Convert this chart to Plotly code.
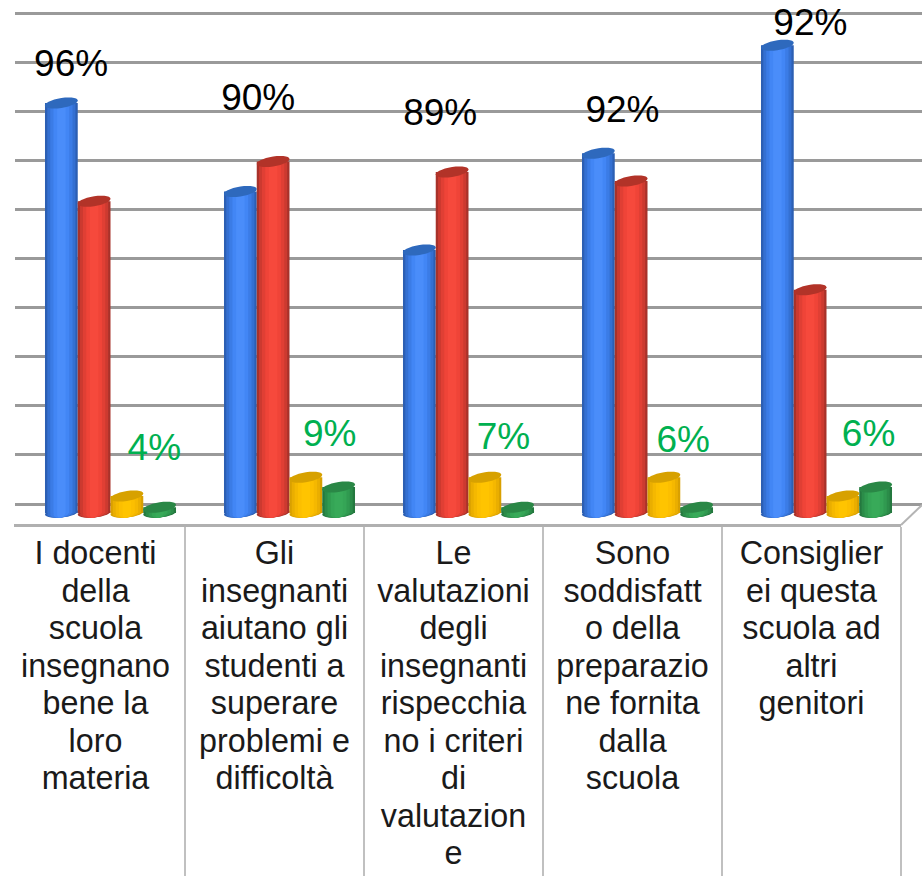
import math
import plotly.graph_objects as go

# ---------- data ----------
categories = ["I docenti", "Gli insegnanti", "Le valutazioni", "Sono soddisfatto", "Consiglierei"]
label_lines = [
    ["I docenti", "della", "scuola", "insegnano", "bene la", "loro", "materia"],
    ["Gli", "insegnanti", "aiutano gli", "studenti a", "superare", "problemi e", "difficoltà"],
    ["Le", "valutazioni", "degli", "insegnanti", "rispecchia", "no i criteri", "di", "valutazion", "e"],
    ["Sono", "soddisfatt", "o della", "preparazio", "ne fornita", "dalla", "scuola"],
    ["Consiglier", "ei questa", "scuola ad", "altri", "genitori"],
]
blue = [54.8, 43.0, 35.2, 48.1, 62.5]
red = [41.7, 47.0, 45.6, 44.4, 29.9]
yellow = [2.4, 4.9, 4.9, 4.9, 2.4]
green = [0.9, 3.6, 0.9, 0.9, 3.6]
agree_labels = ["96%", "90%", "89%", "92%", "92%"]
disagree_labels = ["4%", "9%", "7%", "6%", "6%"]
agree_label_y = [59.03, 54.37, 52.37, 52.9, 64.43]
disagree_label_y = [7.83, 9.57, 9.3, 8.8, 9.57]

# ---------- layout constants ----------
W, H = 922, 876
PLOT_H = H
PX_PER_UNIT = 7.5
ZERO_PX = 509
BASE_PX = 518
CAT_PX = 179.0
BAR_CENTER0 = 110.5
LABEL_CENTER0 = 95.5
AXIS_PX = 525
BAR_W = 0.183
base_val = (ZERO_PX - 513) / PX_PER_UNIT
CAP_H = 5.0
CAP_TILT = 2.5

series = [
    (blue, ["#2c5fb3", "#3470d2", "#3b7ce6", "#4286f5", "#4a8dfa"], "#2e69bd"),
    (red, ["#a8322a", "#cc3a30", "#e03f34", "#ef4438", "#f6493c"], "#b23328"),
    (yellow, ["#d9a000", "#eaae00", "#f5b800", "#fcbf00", "#ffc400"], "#d7a100"),
    (green, ["#24783f", "#2b8c49", "#309a50", "#35a556", "#38aa59"], "#2a8746"),
]
fractions = [1.0, 0.86, 0.68, 0.48, 0.26]


def ellipse(cx, cy, halfw, tilt=CAP_TILT, h=CAP_H, n=28):
    pts = []
    for k in range(n):
        t = 2 * math.pi * k / n
        x = cx + halfw * math.cos(t)
        y = cy + (h * math.sin(t) + tilt * math.cos(t)) / PX_PER_UNIT
        pts.append(f"{x:.4f},{y:.4f}")
    return "M" + " L".join(pts) + " Z"


fig = go.Figure()
shapes = []

for s, (vals, grads, cap) in enumerate(series):
    xs = [i + (s - 1.5) * BAR_W for i in range(len(vals))]
    for f, col in zip(fractions, grads):
        body = [v - CAP_H / PX_PER_UNIT - base_val for v in vals]
        fig.add_trace(go.Bar(
            x=xs, y=body, base=[base_val] * len(vals), width=BAR_W * f,
            marker=dict(color=col, line=dict(width=0)),
            xaxis="x2", yaxis="y2", hoverinfo="skip", showlegend=False,
        ))
        for x in xs:
            shapes.append(dict(type="path", path=ellipse(x, base_val, BAR_W * f / 2, tilt=1.5, h=4.5),
                               xref="x2", yref="y2", fillcolor=col, line=dict(width=0), layer="below"))
    for x, v in zip(xs, vals):
        shapes.append(dict(type="path", path=ellipse(x, v - CAP_H / PX_PER_UNIT, BAR_W / 2),
                           xref="x2", yref="y2", fillcolor=cap, line=dict(width=0), layer="above"))

group_x = list(range(len(categories)))
label_dx = [-0.22, -0.175, -0.158, -0.14, -0.09]
fig.add_trace(go.Scatter(
    x=[i + d for i, d in zip(group_x, label_dx)], y=agree_label_y, text=agree_labels,
    mode="text", textposition="middle center",
    textfont=dict(family="Liberation Sans, Arial, sans-serif", size=37, color="#000000"),
    xaxis="x2", yaxis="y2", hoverinfo="skip", showlegend=False, cliponaxis=False,
))
green_dx = [0.245, 0.225, 0.195, 0.20, 0.235]
fig.add_trace(go.Scatter(
    x=[i + d for i, d in zip(group_x, green_dx)], y=disagree_label_y, text=disagree_labels,
    mode="text", textposition="middle center",
    textfont=dict(family="Liberation Sans, Arial, sans-serif", size=37, color="#00b050"),
    xaxis="x2", yaxis="y2", hoverinfo="skip", showlegend=False, cliponaxis=False,
))

cx, cy, ct = [], [], []
for name, lines in zip(categories, label_lines):
    for n, line in enumerate(lines):
        cx.append(name)
        cy.append(n)
        ct.append(line)
fig.add_trace(go.Scatter(
    x=cx, y=cy, text=ct, mode="text", textposition="middle center",
    textfont=dict(family="Liberation Sans, Arial, sans-serif", size=32.3, color="#1a1a1a"),
    xaxis="x", yaxis="y", hoverinfo="skip", showlegend=False, cliponaxis=False,
))

shapes.append(dict(type="line", xref="paper", yref="paper",
                   x0=901 / W, y0=1 - AXIS_PX / PLOT_H, x1=W / W, y1=1 - 505 / PLOT_H,
                   line=dict(color="#b4b4b4", width=2)))

LINE_PITCH = 37.5
FIRST_LINE = 556

fig.update_layout(
    width=W, height=H, autosize=False,
    margin=dict(l=0, r=0, t=0, b=0, pad=0),
    paper_bgcolor="white", plot_bgcolor="rgba(0,0,0,0)",
    barmode="overlay", showlegend=False, shapes=shapes,
    xaxis=dict(
        type="category", categoryorder="array", categoryarray=categories,
        domain=[14 / W, 901 / W],
        range=[(14 - LABEL_CENTER0) / CAT_PX, (901 - LABEL_CENTER0) / CAT_PX],
        anchor="free", position=1 - AXIS_PX / PLOT_H,
        showline=True, linecolor="#b0b0b0", linewidth=3,
        ticks="outside", tickson="boundaries", ticklen=H - AXIS_PX - 2,
        tickcolor="#c0c0c0", tickwidth=2,
        showticklabels=False, showgrid=False, zeroline=False, fixedrange=True,
    ),
    yaxis=dict(
        domain=[0, 1 - AXIS_PX / PLOT_H],
        range=[(PLOT_H - FIRST_LINE) / LINE_PITCH, (AXIS_PX - FIRST_LINE) / LINE_PITCH],
        visible=False, fixedrange=True,
    ),
    xaxis2=dict(
        domain=[15 / W, 1],
        range=[(15 - BAR_CENTER0) / CAT_PX, (W - BAR_CENTER0) / CAT_PX],
        anchor="y2", visible=False, fixedrange=True,
    ),
    yaxis2=dict(
        domain=[1 - BASE_PX / PLOT_H, 1],
        range=[(ZERO_PX - BASE_PX) / PX_PER_UNIT, ZERO_PX / PX_PER_UNIT],
        anchor="x2", showgrid=True, gridcolor="#9a9a9a", gridwidth=3,
        tickmode="linear", tick0=(ZERO_PX - 504) / PX_PER_UNIT, dtick=49.1 / PX_PER_UNIT,
        showticklabels=False, ticks="", zeroline=False, showline=False, fixedrange=True,
    ),
)

fig.write_html(
    "out.html",
    config=dict(displayModeBar=False),
    post_script="document.body.style.margin='0';document.documentElement.style.overflow='hidden';",
)
